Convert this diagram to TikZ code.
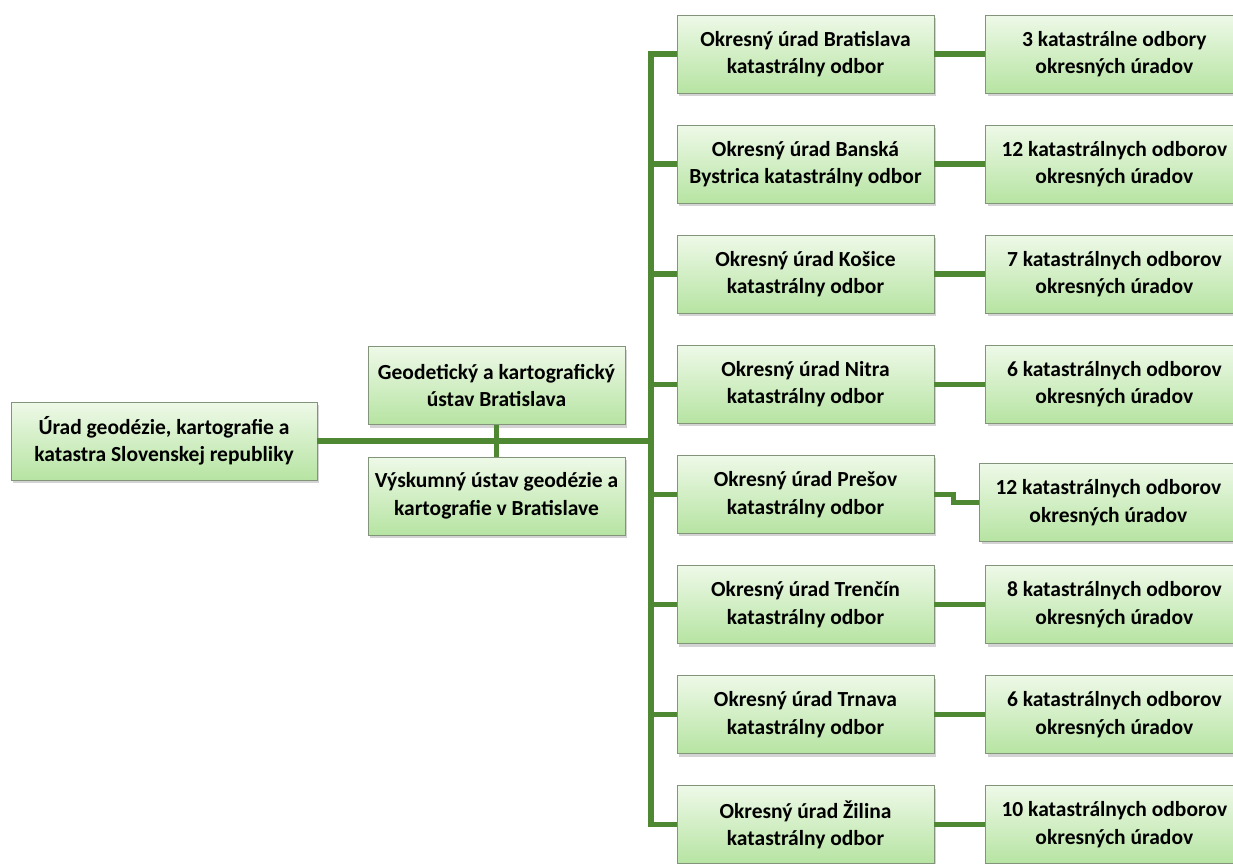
\documentclass[tikz,border=0pt]{standalone}
\usepackage{fontspec}
\setmainfont{Carlito}
\usetikzlibrary{positioning,shadows}
\definecolor{boxtop}{RGB}{238,249,232}
\definecolor{boxbot}{RGB}{182,228,162}
\definecolor{boxedge}{RGB}{130,148,122}
\definecolor{linegreen}{RGB}{79,136,50}
\begin{document}
\begin{tikzpicture}[x=1pt,y=-1pt,node distance=110.1pt,
  box/.style={draw=boxedge,line width=0.8pt,top color=boxtop,bottom color=boxbot,
    minimum width=257pt,minimum height=78pt,align=center,
    font=\bfseries\fontsize{21.5}{27.5}\selectfont,
    drop shadow={shadow xshift=2pt,shadow yshift=-3pt,opacity=0.35}},
  conn/.style={draw=linegreen,line width=5.5pt}]
\useasboundingbox (0,0) rectangle (1233,863);
          \node[box,minimum width=306pt](UGKK) at (164,441){Úrad geodézie, kartografie a\\katastra Slovenskej republiky};
          \node[box](GKU) at (496.5,385.5){Geodetický a kartografický\\ústav Bratislava};
          \node[box](VUGK) at (496.5,496){Výskumný ústav geodézie a\\kartografie v Bratislave};
          \coordinate(hub) at (651,441);
          \node[box](BA) at (805.5,54){Okresný úrad Bratislava\\katastrálny odbor};
          \node[box](BB)[below of=BA]{Okresný úrad Banská\\Bystrica katastrálny odbor};
          \node[box](KE)[below of=BB]{Okresný úrad Košice\\katastrálny odbor};
          \node[box](NR)[below of=KE]{Okresný úrad Nitra\\katastrálny odbor};
          \node[box](PO)[below of=NR]{Okresný úrad Prešov\\katastrálny odbor};
          \node[box](TN)[below of=PO]{Okresný úrad Trenčín\\katastrálny odbor};
          \node[box](TT)[below of=TN]{Okresný úrad Trnava\\katastrálny odbor};
          \node[box](ZA)[below of=TT]{Okresný úrad Žilina\\katastrálny odbor};
          \node[box](BA1)[right=51pt of BA]{3 katastrálne odbory\\okresných úradov};
          \node[box](BB1)[right=51pt of BB]{12 katastrálnych odborov\\okresných úradov};
          \node[box](KE1)[right=51pt of KE]{7 katastrálnych odborov\\okresných úradov};
          \node[box](NR1)[right=51pt of NR]{6 katastrálnych odborov\\okresných úradov};
          \node[box](PO1)[right=45pt of PO,yshift=-8pt]{12 katastrálnych odborov\\okresných úradov};
          \node[box](TN1)[right=51pt of TN]{8 katastrálnych odborov\\okresných úradov};
          \node[box](TT1)[right=51pt of TT]{6 katastrálnych odborov\\okresných úradov};
          \node[box](ZA1)[right=51pt of ZA]{10 katastrálnych odborov\\okresných úradov};
          \path[conn] (UGKK) -- (hub);
          \path[conn] (GKU) -- (VUGK);
          \path[conn] (hub) |- (BA);
          \path[conn] (hub) |- (BB);
          \path[conn] (hub) |- (KE);
          \path[conn] (hub) |- (NR);
          \path[conn] (hub) |- (PO);
          \path[conn] (hub) |- (TN);
          \path[conn] (hub) |- (TT);
          \path[conn] (hub) |- (ZA);
          \path[conn] (BA) -- (BA1);
          \path[conn] (BB) -- (BB1);
          \path[conn] (KE) -- (KE1);
          \path[conn] (NR) -- (NR1);
          \path[conn] (PO.east) -- ++(19,0) |- (PO1);
          \path[conn] (TN) -- (TN1);
          \path[conn] (TT) -- (TT1);
          \path[conn] (ZA) -- (ZA1);
        \end{tikzpicture}
\end{document}
